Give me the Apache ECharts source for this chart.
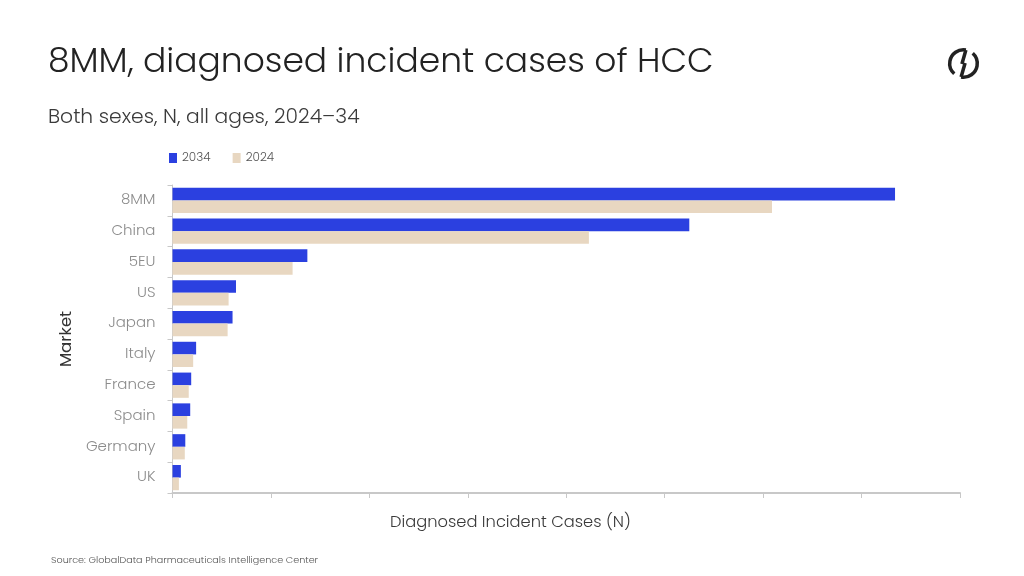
<!DOCTYPE html>
<html>
<head>
<meta charset="utf-8">
<script src="https://cdn.jsdelivr.net/npm/echarts@6/dist/echarts.min.js"></script>
<style>
html,body{margin:0;padding:0;background:#fff;}
#chart{width:1024px;height:576px;}
</style>
</head>
<body>
<div id="chart"></div>
<script>
var categories = ['8MM', 'China', '5EU', 'US', 'Japan', 'Italy', 'France', 'Spain', 'Germany', 'UK'];
var values2034 = [734000, 525000, 137000, 64500, 61000, 24000, 19000, 18000, 13000, 8500];
var values2024 = [609000, 423000, 122000, 57000, 56000, 21000, 16500, 15000, 12500, 6500];
var seriesNames = ['2034', '2024'];

var FONT = 'Poppins, Inter, "Open Sans", sans-serif';
var D = Math.PI / 180;
var R = 13.8, LX = 963.5, LY = 63.5;
var logoStyle = { fill: null, stroke: '#222222', lineWidth: 3.5, lineCap: 'butt' };
var aA = -80, aB = 100;

var chart = echarts.init(document.getElementById('chart'));
chart.setOption({
  backgroundColor: '#ffffff',
  textStyle: { fontFamily: FONT },
  title: [
    { text: '8MM, diagnosed incident cases of HCC', left: 48, top: 46, padding: 0,
      textStyle: { fontSize: 34.5, fontWeight: 300, color: '#222222', fontFamily: FONT } },
    { text: 'Both sexes, N, all ages, 2024\u201334', left: 48, top: 108, padding: 0,
      textStyle: { fontSize: 20.3, fontWeight: 300, color: '#3a3a3a', fontFamily: FONT } }
  ],
  legend: {
    left: 164, top: 147, itemWidth: 8, itemHeight: 10, itemGap: 22,
    icon: 'rect',
    textStyle: { fontSize: 12, fontWeight: 300, color: '#555555', fontFamily: FONT },
    data: seriesNames
  },
  grid: { left: 172.5, right: 64, top: 185, bottom: 83 },
  xAxis: {
    type: 'value', min: 0, max: 800000, interval: 100000,
    axisLabel: { show: false },
    splitLine: { show: false },
    axisLine: { show: true, lineStyle: { color: '#c8c8c8', width: 2 } },
    axisTick: { show: true, length: 5, lineStyle: { color: '#c8c8c8' } }
  },
  yAxis: {
    type: 'category', inverse: true, data: categories,
    name: 'Market', nameLocation: 'middle', nameRotate: 90, nameGap: 91,
    nameTextStyle: { fontSize: 16.5, fontWeight: 400, color: '#333333', fontFamily: FONT },
    axisLine: { show: true, lineStyle: { color: '#c8c8c8', width: 1 } },
    axisTick: { show: true, length: 5, lineStyle: { color: '#c8c8c8' } },
    axisLabel: { fontSize: 15, fontWeight: 300, color: '#8c8c8c', margin: 17, fontFamily: FONT }
  },
  series: [
    { name: seriesNames[0], type: 'bar', data: values2034, barGap: '0%', barCategoryGap: '18%',
      itemStyle: { color: '#2b40e0' } },
    { name: seriesNames[1], type: 'bar', data: values2024, barGap: '0%', barCategoryGap: '18%',
      itemStyle: { color: '#e8d7c1' } }
  ],
  graphic: [
    { type: 'text', left: 390, top: 515,
      style: { text: 'Diagnosed Incident Cases (N)', fontSize: 16.3, fontWeight: 300, fill: '#3a3a3a', fontFamily: FONT } },
    { type: 'text', left: 51, top: 556,
      style: { text: 'Source: GlobalData Pharmaceuticals Intelligence Center', fontSize: 9.6, fontWeight: 300, fill: '#555555', fontFamily: FONT } },
    { type: 'arc', z: 10,
      shape: { cx: LX, cy: LY, r: R, startAngle: aA * D, endAngle: 132 * D, clockwise: false }, style: logoStyle },
    { type: 'arc', z: 10,
      shape: { cx: LX, cy: LY, r: R, startAngle: aB * D, endAngle: -48 * D, clockwise: false }, style: logoStyle },
    { type: 'line', z: 10,
      shape: { x1: LX + R * Math.cos(aA * D), y1: LY + R * Math.sin(aA * D), x2: LX - 1.6, y2: LY + 0.5 }, style: logoStyle },
    { type: 'line', z: 10,
      shape: { x1: LX + R * Math.cos(aB * D), y1: LY + R * Math.sin(aB * D), x2: LX + 1.6, y2: LY - 0.5 }, style: logoStyle }
  ]
});
</script>
</body>
</html>
